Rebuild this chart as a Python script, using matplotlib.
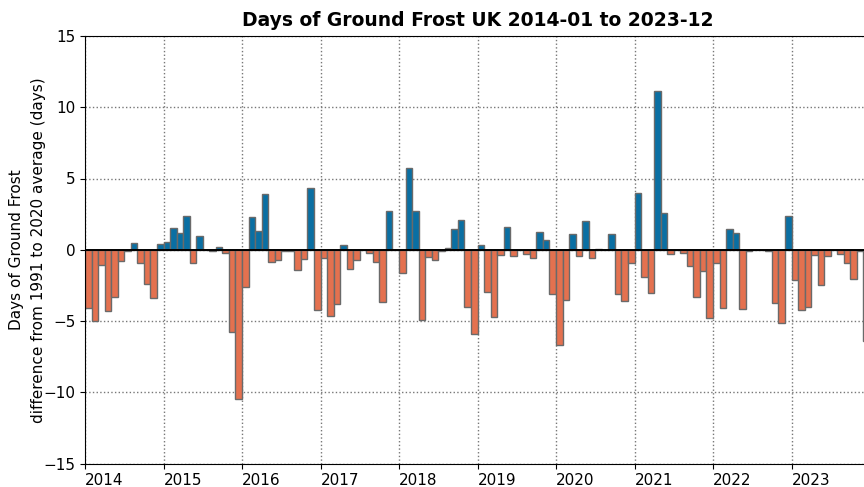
import numpy as np
from matplotlib import pyplot as plt

# Monthly ground frost anomaly (days), difference from the 1991-2020 average
frost_2014 = [-4.1, -5.0, -1.1, -4.3, -3.3, -0.8, -0.1, 0.5, -0.9, -2.4, -3.4, 0.4]
frost_2015 = [0.55, 1.5, 1.2, 2.4, -0.9, 1.0, -0.05, -0.1, 0.2, -0.25, -5.8, -10.5]
frost_2016 = [-2.6, 2.3, 1.3, 3.9, -0.85, -0.75, -0.1, -0.1, -1.4, -0.65, 4.3, -4.2]
frost_2017 = [-0.55, -4.65, -3.8, 0.3, -1.35, -0.7, -0.05, -0.25, -0.85, -3.7, 2.7, 0.0]
frost_2018 = [-1.65, 5.75, 2.7, -4.9, -0.5, -0.75, -0.1, 0.15, 1.45, 2.1, -4.05, -5.9]
frost_2019 = [0.35, -2.95, -4.7, -0.4, 1.6, -0.45, 0.0, -0.3, -0.55, 1.25, 0.65, -3.1]
frost_2020 = [-6.7, -3.5, 1.1, -0.45, 2.0, -0.55, 0.05, 0.0, 1.1, -3.1, -3.6, -0.95]
frost_2021 = [4.0, -1.9, -3.0, 11.15, 2.6, -0.3, -0.05, -0.2, -1.15, -3.35, -1.5, -4.8]
frost_2022 = [-0.95, -4.1, 1.45, 1.2, -4.15, -0.1, -0.05, -0.05, -0.1, -3.75, -5.15, 2.4]
frost_2023 = [-2.15, -4.2, -4.0, -0.35, -2.45, -0.45, -0.05, -0.3, -0.95, -2.05, -0.1, -6.4]

years = list(range(2014, 2024))
year_labels = [str(y) for y in years]

# ---------------------------------------------- #
# Build the monthly series
# ---------------------------------------------- #
anomaly = np.array(frost_2014 + frost_2015 + frost_2016 + frost_2017 + frost_2018
                   + frost_2019 + frost_2020 + frost_2021 + frost_2022 + frost_2023)
month_x = years[0] + np.arange(len(anomaly)) / 12.0

colours = np.where(anomaly > 0, '#0a6fa3', '#e4714f')

# ---------------------------------------------- #
# Plot
# ---------------------------------------------- #
fig = plt.figure(figsize=(8.64, 4.87), dpi=100)
ax = fig.add_axes([85 / 864, 1 - 463.5 / 487, 785 / 864, 427.5 / 487])

ax.bar(month_x, anomaly, width=1 / 12, align='edge', color=colours,
       edgecolor='#6a6a6a', linewidth=1.0, zorder=2)
ax.axhline(0, color='black', linewidth=1.4, zorder=3)

ax.set_xlim(years[0], years[-1] + 1)
ax.set_ylim(-15, 15)
ax.set_yticks([-15, -10, -5, 0, 5, 10, 15])
ax.set_xticks(years)
ax.set_xticklabels(year_labels, ha='left')
ax.tick_params(axis='both', labelsize=11)
ax.tick_params(axis='x', pad=3)

ax.grid(True, linestyle=':', color='#777777', linewidth=1.0)
ax.set_axisbelow(True)

ax.set_ylabel('Days of Ground Frost\ndifference from 1991 to 2020 average (days)',
              fontsize=11, linespacing=1.55, labelpad=-2)
ax.set_title('Days of Ground Frost UK 2014-01 to 2023-12', fontweight='bold',
             fontsize=13.5, pad=7)

plt.savefig('out.png', dpi=100)
